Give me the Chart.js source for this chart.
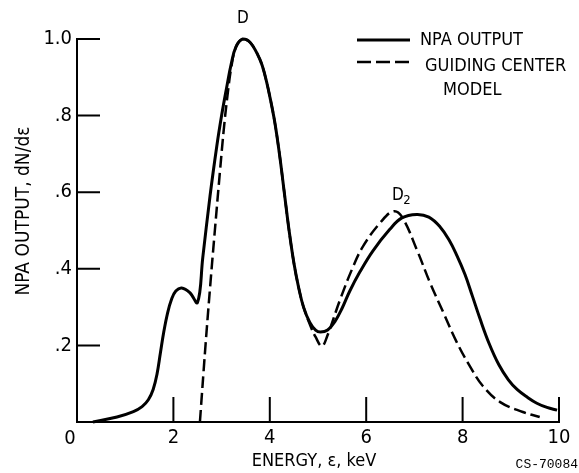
<!DOCTYPE html>
<html>
<head>
<meta charset="utf-8">
<script src="https://cdn.jsdelivr.net/npm/chart.js@4"></script>
<style>
  body { margin: 0; background: #fff; }
  #wrap { width: 579px; height: 473px; }
</style>
</head>
<body>
<div id="wrap"><canvas id="npaChart" width="579" height="473"></canvas></div>
<script>
// Data
const npaEnergy = [0.33, 0.83, 1.17, 1.35, 1.48, 1.58, 1.66, 1.73, 1.8, 1.88, 1.96, 2.05, 2.17, 2.34, 2.5, 2.61, 2.76, 2.9, 3.0, 3.1, 3.2, 3.3, 3.44, 3.6, 3.8, 3.9, 4.0, 4.1, 4.2, 4.3, 4.4, 4.5, 4.6, 4.7, 4.83, 4.95, 5.05, 5.2, 5.35, 5.5, 5.66, 5.87, 6.14, 6.49, 6.74, 7.05, 7.3, 7.53, 7.72, 7.88, 8.05, 8.2, 8.36, 8.55, 8.75, 8.95, 9.13, 9.35, 9.54, 9.75, 9.96];
const npaOutput = [0, 0.013, 0.027, 0.04, 0.058, 0.085, 0.125, 0.18, 0.235, 0.285, 0.32, 0.342, 0.35, 0.338, 0.312, 0.43, 0.59, 0.72, 0.8, 0.87, 0.935, 0.98, 1.0, 0.99, 0.945, 0.905, 0.85, 0.785, 0.7, 0.6, 0.5, 0.415, 0.35, 0.3, 0.26, 0.24, 0.235, 0.24, 0.262, 0.297, 0.342, 0.392, 0.447, 0.503, 0.533, 0.542, 0.535, 0.51, 0.475, 0.435, 0.385, 0.33, 0.27, 0.205, 0.15, 0.11, 0.085, 0.064, 0.049, 0.038, 0.031];

const gcEnergy = [2.55, 2.66, 2.76, 2.86, 2.97, 3.05, 3.12, 3.2, 3.3, 3.44, 3.6, 3.8, 3.9, 4.0, 4.1, 4.2, 4.3, 4.4, 4.5, 4.6, 4.7, 4.83, 4.95, 5.08, 5.19, 5.46, 5.73, 5.94, 6.29, 6.56, 6.74, 7.05, 7.32, 7.6, 7.88, 8.15, 8.42, 8.78, 9.25, 9.6];
const gcOutput = [0, 0.19, 0.35, 0.5, 0.66, 0.77, 0.85, 0.925, 0.98, 1.0, 0.99, 0.945, 0.905, 0.85, 0.785, 0.7, 0.6, 0.5, 0.415, 0.35, 0.3, 0.255, 0.222, 0.198, 0.224, 0.32, 0.406, 0.46, 0.52, 0.55, 0.536, 0.45, 0.365, 0.286, 0.208, 0.146, 0.094, 0.052, 0.026, 0.013];

const xTickLabels = ['', '2', '4', '6', '8', '10'];
const yTickLabels = ['', '.2', '.4', '.6', '.8', '1.0'];

const narrow = '"Liberation Sans Narrow", "DejaVu Sans Condensed", sans-serif';

function toPoints(xs, ys) {
    return xs.map((x, i) => ({ x: x, y: ys[i] }));
}

// Inward tick marks, axis titles and the lettering on the figure
const figureText = {
    id: 'figureText',
    afterDraw(chart) {
        const ctx = chart.ctx;
        const xs = chart.scales.x;
        const ys = chart.scales.y;
        const area = chart.chartArea;
        ctx.save();
        ctx.strokeStyle = '#000';
        ctx.lineWidth = 2;
        ctx.beginPath();
        xs.ticks.forEach(t => {
            if (t.value === 0) return;
            const px = xs.getPixelForValue(t.value);
            ctx.moveTo(px, area.bottom);
            ctx.lineTo(px, area.bottom - 25);
        });
        ys.ticks.forEach(t => {
            if (t.value === 0) return;
            const py = ys.getPixelForValue(t.value);
            ctx.moveTo(area.left, py);
            ctx.lineTo(area.left + 23, py);
        });
        ctx.stroke();

        ctx.fillStyle = '#000';
        ctx.textAlign = 'center';
        ctx.textBaseline = 'middle';

        // origin label sits a little left of the corner
        ctx.font = '20px ' + narrow;
        ctx.fillText('0', area.left - 7, area.bottom + 17);

        // peak labels
        ctx.font = '17px ' + narrow;
        ctx.fillText('D', xs.getPixelForValue(3.44), ys.getPixelForValue(1.0) - 20);
        ctx.fillText('D', xs.getPixelForValue(6.74) - 4, ys.getPixelForValue(0.536) - 21);
        ctx.font = '13px ' + narrow;
        ctx.fillText('2', xs.getPixelForValue(6.74) + 5, ys.getPixelForValue(0.536) - 16);

        // legend
        ctx.lineWidth = 3;
        ctx.beginPath();
        ctx.moveTo(357, 40);
        ctx.lineTo(410, 40);
        ctx.stroke();
        ctx.lineWidth = 2.5;
        ctx.setLineDash([14, 5]);
        ctx.beginPath();
        ctx.moveTo(357, 62);
        ctx.lineTo(410, 62);
        ctx.stroke();
        ctx.setLineDash([]);
        ctx.textAlign = 'left';
        ctx.font = '18px ' + narrow;
        ctx.fillText('NPA OUTPUT', 420, 40);
        ctx.fillText('GUIDING CENTER', 425, 66);
        ctx.fillText('MODEL', 443, 90);

        // axis titles
        ctx.textAlign = 'center';
        ctx.fillText('ENERGY, \u03b5, keV', 314, 461);
        ctx.save();
        ctx.translate(24, 211);
        ctx.rotate(-Math.PI / 2);
        ctx.font = '19px ' + narrow;
        ctx.fillText('NPA OUTPUT, dN/d\u03b5', 0, 0);
        ctx.restore();

        ctx.font = '13px "Liberation Mono", monospace';
        ctx.textAlign = 'right';
        ctx.fillText('CS-70084', 578, 465);
        ctx.restore();
    }
};

const ctx = document.getElementById('npaChart').getContext('2d');
const npaChart = new Chart(ctx, {
    type: 'line',
    data: {
        datasets: [{
            label: 'NPA OUTPUT',
            data: toPoints(npaEnergy, npaOutput),
            borderColor: '#000',
            borderWidth: 3,
            pointRadius: 0,
            tension: 0.4,
            clip: false
        }, {
            label: 'GUIDING CENTER MODEL',
            data: toPoints(gcEnergy, gcOutput),
            borderColor: '#000',
            borderWidth: 2.5,
            borderDash: [12, 5],
            pointRadius: 0,
            tension: 0.4,
            clip: false
        }]
    },
    options: {
        responsive: false,
        animation: false,
        layout: {
            padding: { top: 39, right: 20, left: 0, bottom: 0 }
        },
        plugins: {
            legend: { display: false },
            tooltip: { enabled: false }
        },
        scales: {
            x: {
                type: 'linear',
                min: 0,
                max: 10,
                afterFit: s => { s.height = 51; },
                grid: { drawOnChartArea: false, drawTicks: false },
                border: { color: '#000', width: 2 },
                ticks: {
                    stepSize: 2,
                    padding: 4,
                    color: '#000',
                    font: { family: narrow, size: 20 },
                    callback: (v, i) => xTickLabels[i]
                }
            },
            y: {
                min: 0,
                max: 1.0,
                afterFit: s => { s.width = 77; },
                grid: { drawOnChartArea: false, drawTicks: false },
                border: { color: '#000', width: 2 },
                ticks: {
                    stepSize: 0.2,
                    padding: 5,
                    color: '#000',
                    font: { family: narrow, size: 20 },
                    callback: (v, i) => yTickLabels[i]
                }
            }
        }
    },
    plugins: [figureText]
});
</script>
</body>
</html>
